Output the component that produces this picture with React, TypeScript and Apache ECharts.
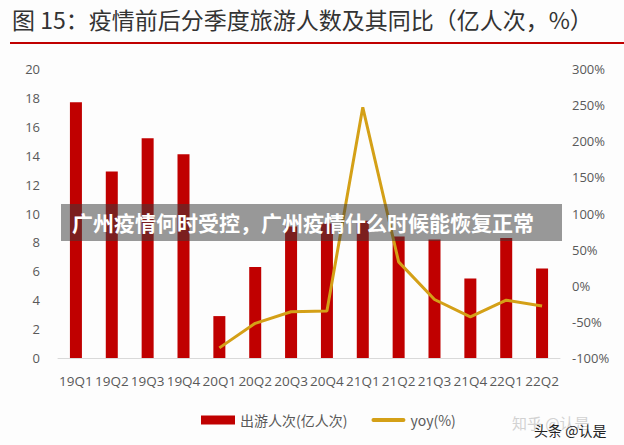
import React, { useEffect, useRef } from "react";
import * as echarts from "echarts";

const categories = ["19Q1","19Q2","19Q3","19Q4","20Q1","20Q2","20Q3","20Q4","21Q1","21Q2","21Q3","21Q4","22Q1","22Q2"];
const trips = [17.7, 12.9, 15.2, 14.1, 2.9, 6.3, 9.1, 9.3, 9.5, 8.4, 8.2, 5.5, 8.3, 6.2];
const yoy = [null, null, null, null, -86, -52, -36, -35, 247, 33, -19, -43, -20, -28];
const leftTicks = { min: 0, max: 20, interval: 2 };
const rightTicks = { min: -100, max: 300, interval: 50 };
const titleText = "图 15：疫情前后分季度旅游人数及其同比（亿人次，%）";
const bannerText = "广州疫情何时受控，广州疫情什么时候能恢复正常";
const barName = "出游人次(亿人次)";
const lineName = "yoy(%)";

export default function App() {
  const ref = useRef<HTMLDivElement>(null);
  useEffect(() => {
    if (!ref.current) return;
    const chart = echarts.init(ref.current, null, { renderer: "svg" });
    const font = "'Noto Sans CJK SC', 'Noto Sans', sans-serif";
    chart.setOption({
      animation: false,
      backgroundColor: "#fdfdfd",
      textStyle: { fontFamily: font },
      grid: { left: 58, right: 64, top: 69, bottom: 87 },
      legend: {
        left: 196,
        top: 408,
        itemGap: 24,
        itemWidth: 34,
        itemHeight: 9,
        textStyle: { color: "#595959", fontSize: 14, fontFamily: font },
        data: [
          { name: barName, icon: "rect" },
          { name: lineName, icon: "path://M2,0 L32,0 A2,2 0 0 1 32,4 L2,4 A2,2 0 0 1 2,0 Z", itemStyle: { color: "#d4a017" } },
        ],
      },
      xAxis: {
        type: "category",
        data: categories,
        axisTick: { show: false },
        axisLine: { lineStyle: { color: "#d9d9d9", width: 1 } },
        axisLabel: { color: "#595959", fontSize: 13.5, margin: 16, interval: 0, fontFamily: "'Open Sans', sans-serif" },
      },
      yAxis: [
        {
          type: "value",
          min: leftTicks.min, max: leftTicks.max, interval: leftTicks.interval,
          splitLine: { show: false },
          axisLine: { show: false },
          axisTick: { show: false },
          axisLabel: { color: "#595959", fontSize: 13, margin: 18, fontFamily: "'Open Sans', sans-serif" },
        },
        {
          type: "value",
          min: rightTicks.min, max: rightTicks.max, interval: rightTicks.interval,
          splitLine: { show: false },
          axisLine: { show: false },
          axisTick: { show: false },
          axisLabel: { color: "#595959", fontSize: 13, margin: 12, formatter: "{value}%", fontFamily: "'Open Sans', sans-serif" },
        },
      ],
      series: [
        {
          name: barName,
          type: "bar",
          data: trips,
          barWidth: 12,
          itemStyle: { color: "#c00000" },
        },
        {
          name: lineName,
          type: "line",
          yAxisIndex: 1,
          data: yoy,
          symbol: "none",
          lineStyle: { color: "#d4a017", width: 3 },
          itemStyle: { color: "#d4a017" },
        },
      ],
      graphic: [
        {
          type: "text",
          left: 12,
          top: 7,
          style: { text: titleText, fill: "#333", font: `23px ${font}` },
        },
        {
          type: "rect",
          shape: { x: 10, y: 42, width: 614, height: 2 },
          style: { fill: "#c00000" },
        },
        {
          type: "rect",
          shape: { x: 61, y: 204, width: 501, height: 37 },
          style: { fill: "rgba(60,60,60,0.52)" },
          z: 100,
        },
        {
          type: "text",
          x: 72,
          y: 222,
          style: { text: bannerText, fill: "#fff", font: `bold 21px ${font}`, textVerticalAlign: "middle" },
          z: 101,
        },
        {
          type: "text",
          x: 512,
          y: 422,
          style: { text: "知乎 @认是", fill: "#d2d2d2", font: `15px ${font}`, textVerticalAlign: "middle" },
          z: 101,
        },
        {
          type: "text",
          x: 534,
          y: 430,
          style: { text: "头条 @认是", fill: "#222", font: `14px ${font}`, textVerticalAlign: "middle" },
          z: 102,
        },
      ],
    });
    return () => chart.dispose();
  }, []);
  return <div ref={ref} style={{ width: 624, height: 445, position: "fixed", left: 0, top: 0 }} />;
}
